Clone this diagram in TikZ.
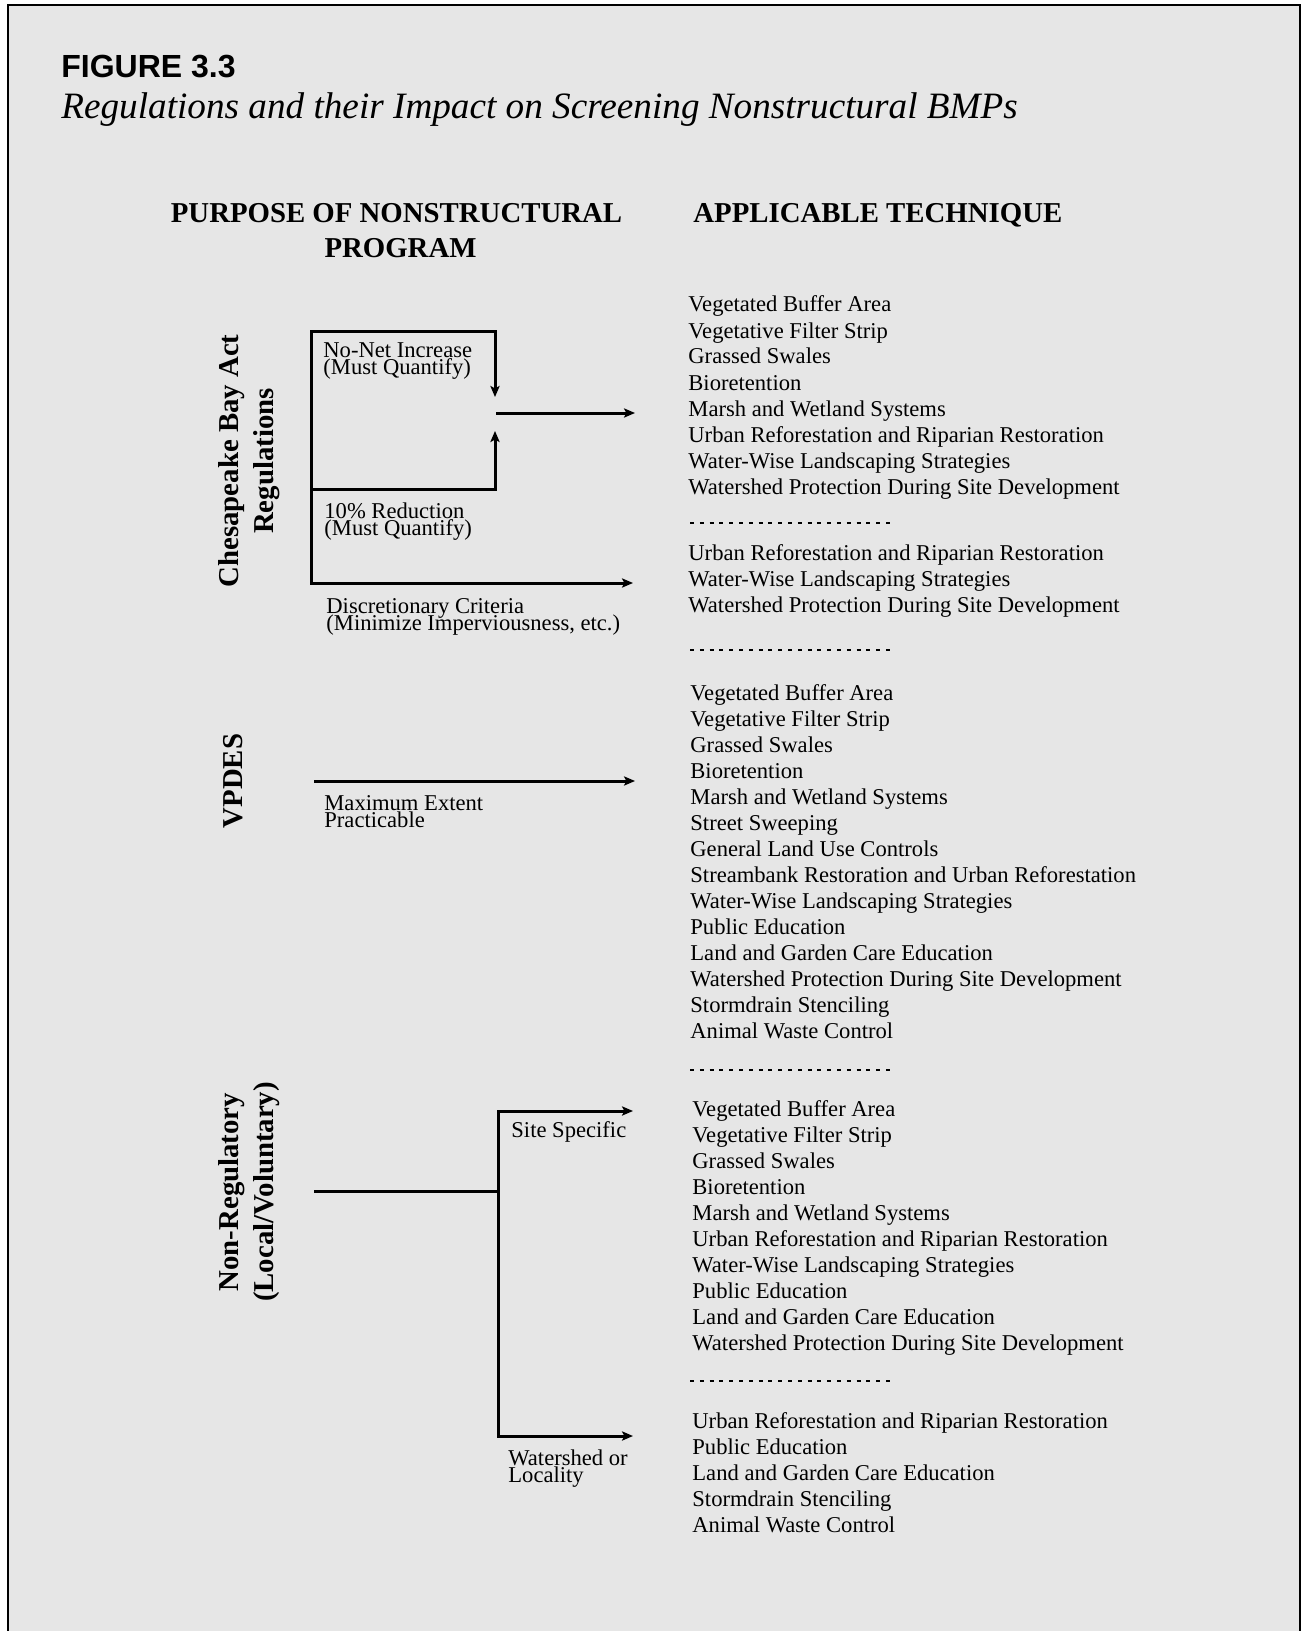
\documentclass[tikz,border=0pt]{standalone}
\usepackage{fontspec}
\setmainfont{Liberation Serif}
\newfontfamily\headsans{Liberation Sans}
\usetikzlibrary{arrows.meta}
\definecolor{panel}{HTML}{E6E6E6}
% two-line captions under the connectors are set with very tight leading
\newcommand\tightnote{\fontsize{11.3}{8.3}\selectfont\setlength{\lineskiplimit}{-20pt}}

\begin{document}
\begin{tikzpicture}[x=0.5pt, y=-0.5pt,
  conn/.style={line width=1.5pt, line cap=butt, line join=miter},
  tipend/.style={conn, -{Stealth[length=5.5pt, width=4.6pt, inset=1.2pt]}},
  tipboth/.style={conn, {Stealth[length=5.5pt, width=4.6pt, inset=1.2pt]}-{Stealth[length=5.5pt, width=4.6pt, inset=1.2pt]}},
  item/.style={anchor=base west, inner sep=0pt, font=\fontsize{11.3}{13}\selectfont},
  % anchored on the baseline of the last line
  note/.style={anchor=base west, inner sep=0pt, align=left, font=\tightnote},
  side/.style={inner sep=0pt, rotate=90, align=center, font=\bfseries\fontsize{14.4}{17.5}\selectfont},
  head/.style={inner sep=0pt, font=\bfseries\fontsize{14.4}{17.5}\selectfont},
  sepline/.style={line width=0.6pt, dash pattern=on 2pt off 2.9pt}
]
\useasboundingbox (0,0) rectangle (1304,1631);

% panel with open bottom edge
\fill[panel] (8,5) rectangle (1300,1631);
\draw[line width=1.3pt] (8,1631) -- (8,5) -- (1300,5) -- (1300,1631);

% title block
\node[anchor=base west, inner sep=0pt, font=\headsans\bfseries\fontsize{16}{19}\selectfont] (fig) at (61,78) {FIGURE 3.3};
\node[anchor=base west, inner sep=0pt, font=\itshape\fontsize{18.6}{22}\selectfont] (caption) at (61,119) {Regulations and their Impact on Screening Nonstructural BMPs};

% column headings
\node[head, anchor=base] (purpose1) at (396.5,223) {PURPOSE OF NONSTRUCTURAL};
\node[head, anchor=base] (purpose2) at (400.5,258) {PROGRAM};
\node[head, anchor=base west] (technique) at (693,223) {APPLICABLE TECHNIQUE};

% programme labels
\node[side] (cbay) at (249,461) {Chesapeake Bay Act\\Regulations};
\node[side] (vpdes) at (233,781) {VPDES};
\node[side] (nonreg) at (249,1192) {Non-Regulatory\\(Local/Voluntary)};

% Chesapeake Bay connectors
\coordinate (cTL) at (311,332);
\coordinate (cTR) at (495,332);
\coordinate (cDown) at (495,397);
\coordinate (cMidL) at (311,489);
\coordinate (cMidR) at (495,489);
\coordinate (cUp) at (495,431);
\coordinate (cOutA) at (496,413);
\coordinate (cOutB) at (635,413);
\coordinate (cBL) at (311,583);
\coordinate (cBot) at (633,583);
\draw[tipboth] (cDown) -- (cTR) -- (cTL) -- (cBL) -- (cBot);
\draw[tipend] (cMidL) -- (cMidR) -- (cUp);
\draw[tipend] (cOutA) -- (cOutB);

\node[note] (nni) at (323,374) {No-Net Increase\\(Must Quantify)};
\node[note] (red) at (324,535) {10\% Reduction\\(Must Quantify)};
\node[note] (disc) at (326,630.5) {Discretionary Criteria\\(Minimize Imperviousness, etc.)};

% VPDES connector
\coordinate (vA) at (314,781);
\coordinate (vB) at (635,781);
\draw[tipend] (vA) -- (vB);
\node[note] (mep) at (324,827) {Maximum Extent\\Practicable};

% non-regulatory connectors
\coordinate (nA) at (314,1191);
\coordinate (nJ) at (498,1191);
\coordinate (nTop) at (633,1111);
\coordinate (nBot) at (633,1436);
\draw[conn] (nA) -- (nJ);
\draw[tipboth] (nTop) -| (nJ) |- (nBot);
\node[item] (site) at (511,1137) {Site Specific};
\node[note] (ws) at (508,1482) {Watershed or\\Locality};

% technique lists
\foreach \t [count=\i from 0] in {Vegetated Buffer Area, Vegetative Filter Strip, Grassed Swales, Bioretention, Marsh and Wetland Systems, Urban Reforestation and Riparian Restoration, Water-Wise Landscaping Strategies, Watershed Protection During Site Development}
  \node[item] (la\i) at (688,312+26*\i) {\t};
\draw[sepline] (690,523) coordinate (sa) -- (890,523) coordinate (sb);

\foreach \t [count=\i from 0] in {Urban Reforestation and Riparian Restoration, Water-Wise Landscaping Strategies, Watershed Protection During Site Development}
  \node[item] (lb\i) at (688,560+26*\i) {\t};
\draw[sepline] (690,650) coordinate (sc) -- (890,650) coordinate (sd);

\foreach \t [count=\i from 0] in {Vegetated Buffer Area, Vegetative Filter Strip, Grassed Swales, Bioretention, Marsh and Wetland Systems, Street Sweeping, General Land Use Controls, Streambank Restoration and Urban Reforestation, Water-Wise Landscaping Strategies, Public Education, Land and Garden Care Education, Watershed Protection During Site Development, Stormdrain Stenciling, Animal Waste Control}
  \node[item] (lc\i) at (690,700+26*\i) {\t};
\draw[sepline] (690,1070) coordinate (se) -- (890,1070) coordinate (sf);

\foreach \t [count=\i from 0] in {Vegetated Buffer Area, Vegetative Filter Strip, Grassed Swales, Bioretention, Marsh and Wetland Systems, Urban Reforestation and Riparian Restoration, Water-Wise Landscaping Strategies, Public Education, Land and Garden Care Education, Watershed Protection During Site Development}
  \node[item] (ld\i) at (692,1116+26*\i) {\t};
\draw[sepline] (690,1381) coordinate (sg) -- (890,1381) coordinate (sh);

\foreach \t [count=\i from 0] in {Urban Reforestation and Riparian Restoration, Public Education, Land and Garden Care Education, Stormdrain Stenciling, Animal Waste Control}
  \node[item] (le\i) at (692,1428+26*\i) {\t};
\end{tikzpicture}
\end{document}
